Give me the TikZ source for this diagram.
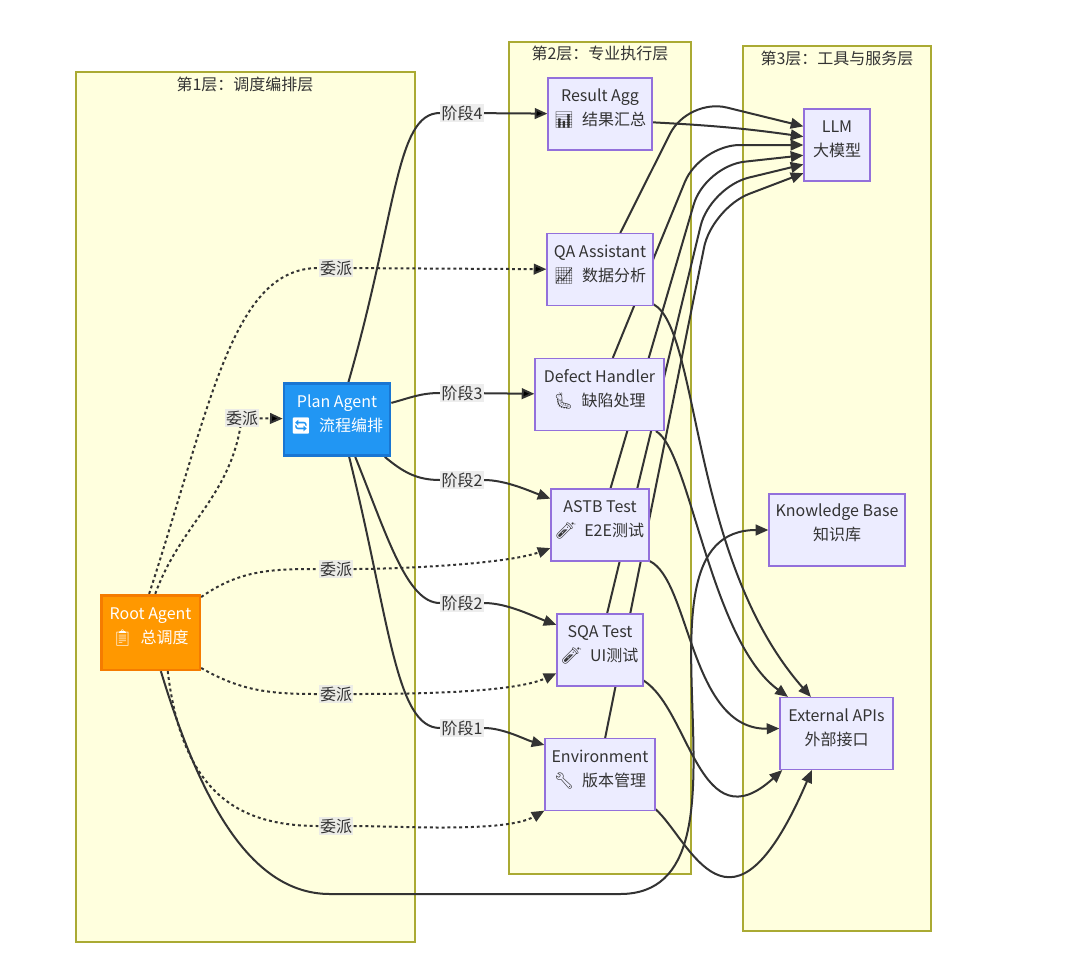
\documentclass[tikz,border=0pt]{standalone}
\usepackage{fontspec}
\setmainfont{Noto Sans CJK SC}
\newfontfamily\emo{Noto Emoji}
\usetikzlibrary{arrows.meta}

\definecolor{layfill}{HTML}{FFFFDE}
\definecolor{layline}{HTML}{AAAA33}
\definecolor{agfill}{HTML}{ECECFF}
\definecolor{agline}{HTML}{9370DB}
\definecolor{ink}{HTML}{333333}
\definecolor{lblbg}{HTML}{E8E8E8}
\definecolor{rootfill}{HTML}{FF9800}
\definecolor{rootline}{HTML}{F57C00}
\definecolor{planfill}{HTML}{2196F3}
\definecolor{planline}{HTML}{1976D2}

\pgfdeclarelayer{lay}
\pgfdeclarelayer{edges}
\pgfsetlayers{lay,edges,main}

\begin{document}
\begin{tikzpicture}[x=0.75pt,y=-0.75pt,
  font=\fontsize{12}{18}\selectfont, text=ink,
  layer/.style={draw=layline, fill=layfill, line width=0.8pt},
  laytitle/.style={inner sep=0pt},
  agent/.style={draw=agline, fill=agfill, line width=0.9pt, align=center, inner sep=1pt, minimum height=54pt, text depth=10pt},
  lbl/.style={fill=lblbg, fill opacity=0.8, text opacity=1, inner sep=1pt},
  link/.style={draw=ink, line width=1.5pt},
  flow/.style={link, -{Triangle[length=9.5pt,width=8pt]}},
  dot/.style={link, dash pattern=on 2.2pt off 2.2pt},
  dotflow/.style={flow, dash pattern=on 2.2pt off 2.2pt}]
   \useasboundingbox (0,0) rectangle (1080,974);

   \begin{pgfonlayer}{lay}
    \draw[layer] (76,72) rectangle (415,942);
    \draw[layer] (509,42) rectangle (691,874);
    \draw[layer] (743,46) rectangle (931,931);
   \end{pgfonlayer}
   \draw (245,84) node[laytitle] (t1) {第1层：调度编排层};
   \draw (600,53) node[laytitle] (t2) {第2层：专业执行层};
   \draw (837,58) node[laytitle] (t3) {第3层：工具与服务层};

   \draw (150.5,632.5) node[agent, fill=rootfill, draw=rootline, line width=2pt, text=white, minimum width=74pt, minimum height=56pt] (root) {Root Agent\\{\emo 📋}\enspace 总调度};
   \draw (337,419.5) node[agent, fill=planfill, draw=planline, line width=2pt, text=white, minimum width=79.5pt] (plan) {Plan Agent\\{\emo 🔄}\enspace 流程编排};

   \draw (600,114) node[agent, minimum width=78pt] (result) {Result Agg\\{\emo 📊}\enspace 结果汇总};
   \draw (600,269.5) node[agent, minimum width=79.5pt] (qa) {QA Assistant\\{\emo 📈}\enspace 数据分析};
   \draw (599.5,394.5) node[agent, minimum width=96.75pt] (defect) {Defect Handler\\{\emo 🐛}\enspace 缺陷处理};
   \draw (600,525) node[agent, minimum width=73.5pt] (astb) {ASTB Test\\{\emo 🧪}\enspace E2E测试};
   \draw (600,650) node[agent, minimum width=64.5pt] (sqa) {SQA Test\\{\emo 🧪}\enspace UI测试};
   \draw (600,774.5) node[agent, minimum width=82.5pt] (env) {Environment\\{\emo 🔧}\enspace 版本管理};

   \draw (837,145) node[agent, minimum width=49.5pt] (llm) {LLM\\大模型};
   \draw (837,530) node[agent, minimum width=102pt, text depth=12pt] (kb) {Knowledge Base\\知识库};
   \draw (836.5,733.5) node[agent, minimum width=84.75pt] (ext) {External APIs\\外部接口};

   \draw (242,418) node[lbl] (d1) {委派};
   \draw (336,268) node[lbl] (d2) {委派};
   \draw (336,569) node[lbl] (d3) {委派};
   \draw (336,694) node[lbl] (d4) {委派};
   \draw (336,826) node[lbl] (d5) {委派};
   \draw (462,113) node[lbl] (s4) {阶段4};
   \draw (462,393) node[lbl] (s3) {阶段3};
   \draw (462,480) node[lbl] (s2a) {阶段2};
   \draw (462,603) node[lbl] (s2b) {阶段2};
   \draw (462,728) node[lbl] (s1) {阶段1};

   \begin{pgfonlayer}{edges}
    \draw[dot] (root.83) to[out=70,in=-100] (d1);
    \path[dotflow] (d1) edge (plan);
    \draw[dot] (root.92) to[out=72,in=180,out looseness=1.4,in looseness=0.6] (d2);
    \path[dotflow] (d2) edge (qa);
    \draw[dot] (root.35) to[out=35,in=180] (d3);
    \draw[dotflow] (d3) to[out=0,in=200,looseness=0.6] (astb.205);
    \draw[dot] (root.-35) to[out=-30,in=180] (d4);
    \draw[dotflow] (d4) to[out=0,in=205,looseness=0.6] (sqa.208);
    \draw[dot] (root.-66) .. controls (182,790) and (235,826) .. (d5);
    \draw[dotflow] (d5) to[out=0,in=210,looseness=0.6] (env.213);

    \draw[link] (plan.73) to[out=74,in=180,out looseness=1.6,in looseness=0.4] (s4);
    \path[flow] (s4) edge (result);
    \draw[link] (plan.17) to[out=15,in=180] (s3);
    \path[flow] (s3) edge (defect);
    \draw[link] (plan.-38) to[out=-40,in=180] (s2a);
    \draw[flow] (s2a) to[out=0,in=160,looseness=0.8] (astb.152);
    \draw[link] (plan.-64) to[out=-68,in=180,out looseness=1.3,in looseness=0.5] (s2b);
    \draw[flow] (s2b) to[out=0,in=160,looseness=0.8] (sqa.150);
    \draw[link] (plan.-72) to[out=-76,in=180,out looseness=1.5,in looseness=0.4] (s1);
    \draw[flow] (s1) to[out=0,in=165,looseness=0.8] (env.152);

    \draw[flow, rounded corners=30pt] (qa.61) -- (688,98) -- (llm.151);
    \draw[flow] (result.-9) to[out=-3,in=172] (llm.166);
    \draw[flow, rounded corners=30pt] (defect.70) -- (700,145) -- (llm.180);
    \draw[flow, rounded corners=30pt] (astb.74) -- (705,166) -- (llm.197);
    \draw[flow, rounded corners=30pt] (sqa.79) -- (710,187) -- (llm.210);
    \draw[flow, rounded corners=30pt] (env.82) -- (712,208) -- (llm.220);

    \draw[flow] (qa.-33) .. controls (700,330) and (690,560) .. (ext.125);
    \draw[flow] (defect.-33) .. controls (690,450) and (710,640) .. (ext.143);
    \draw[flow] (astb.-36) .. controls (690,580) and (690,730) .. (ext.175);
    \draw[flow] (sqa.-35) .. controls (690,710) and (700,845) .. (ext.214);
    \draw[flow] (env.-32) .. controls (690,840) and (730,960) .. (ext.236);

    \draw[flow] (root.-75) .. controls (200,800) and (250,894) .. (330,894) -- (620,894) .. controls (774,894) and (614,530) .. (kb.west);
   \end{pgfonlayer}
\end{tikzpicture}
\end{document}
